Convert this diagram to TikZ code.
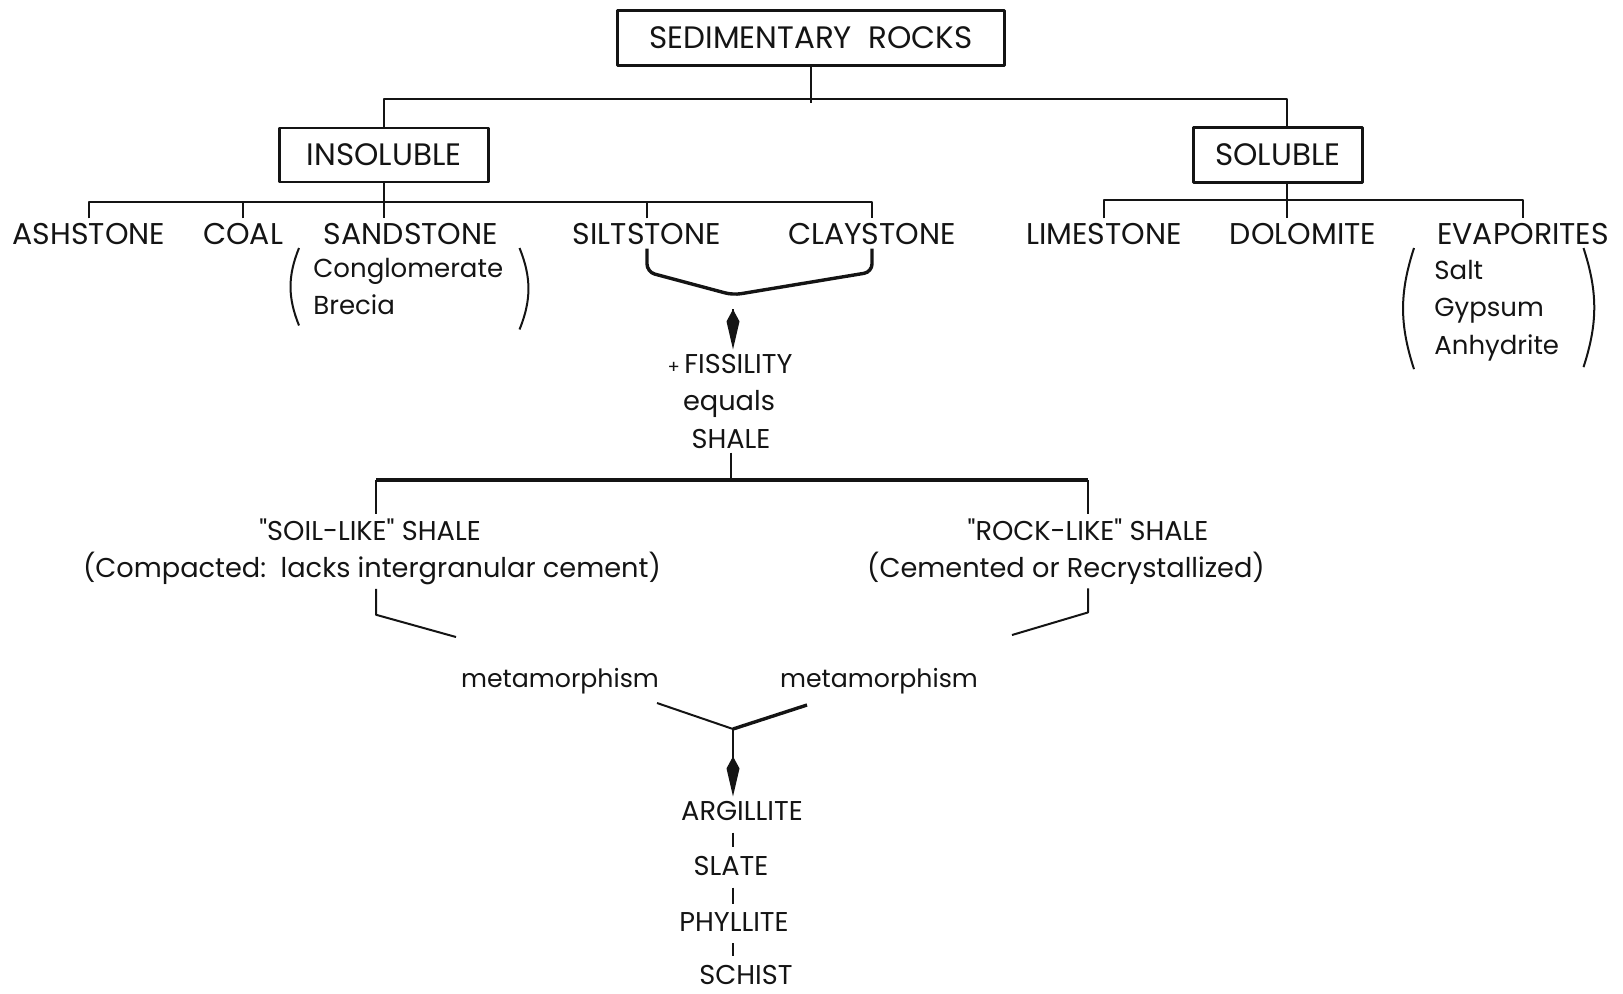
\documentclass[tikz,border=0pt]{standalone}
\usepackage{fontspec}
\setmainfont{Poppins}
\usetikzlibrary{arrows.meta}
\newcommand{\qt}{{\addfontfeature{Ligatures=TeXOff}"}}
\tikzstyle{bx} = [rectangle, draw, line width=1.3pt, inner sep=0pt,
    font=\fontsize{15.5}{18}\selectfont]
\tikzstyle{rk} = [anchor=base, inner sep=2pt, font=\fontsize{15}{18}\selectfont]
\tikzstyle{tx} = [anchor=base, inner sep=2pt, font=\fontsize{13.6}{17}\selectfont]
\tikzstyle{mt} = [anchor=base, inner sep=2pt, font=\fontsize{12.6}{15}\selectfont]
\tikzstyle{lst} = [anchor=north west, align=left, inner sep=0pt,
    font=\fontsize{13}{18.6}\selectfont]
\tikzstyle{ln} = [line width=1pt]
\tikzstyle{fat} = [line width=1.7pt]
\tikzstyle{spindle} = [-{Kite[length=20pt,width=6.5pt,inset=6pt]}, line width=1.3pt]

\begin{document}
\begin{tikzpicture}[x=0.5pt,y=-0.5pt,color=black!92,line join=round]
  \useasboundingbox (0,0) rectangle (1623,993);

  % top of the tree
  \node[bx, minimum width=193.5pt, minimum height=27.5pt] (rocks) at (811,38) {SEDIMENTARY\ \ ROCKS};
  \node[bx, minimum width=104.5pt, minimum height=27pt]   (insol) at (384,155) {INSOLUBLE};
  \node[bx, minimum width=84.5pt, minimum height=27.5pt]  (sol)   at (1278,155) {SOLUBLE};

  \draw[ln] (rocks.south) -- ++(0,36);
  \draw[ln] (insol.north) -- ++(0,-28) -| ([xshift=4.5pt]sol.north);

  % insoluble rocks
  \node[rk] (ash)  at (89,244)  {ASHSTONE};
  \node[rk] (coal) at (243,244) {COAL};
  \node[rk] (sand) at (411,244) {SANDSTONE};
  \node[rk] (silt) at (647,244) {SILTSTONE};
  \node[rk] (clay) at (872,244) {CLAYSTONE};
  \node[lst] (cong) at (313,258) {Conglomerate\\Brecia};

  \coordinate (ib) at (0,202);
  \draw[ln] (insol.south) -- (insol.south |- sand.north);
  \draw[ln] (ash.north) -- (ash.north |- ib) -- (clay.north |- ib) -- (clay.north);
  \draw[ln] (coal.north) -- (coal.north |- ib);
  \draw[ln] (silt.north) -- (silt.north |- ib);
  \draw[ln] ([shift={(-14,-10)}]cong.north west) to[bend right=22] ([shift={(-14,10)}]cong.south west);
  \draw[ln] ([shift={(16,-10)}]cong.north east) to[bend left=22] ([shift={(16,14)}]cong.south east);

  % soluble rocks
  \node[rk] (lime) at (1104,244) {LIMESTONE};
  \node[rk] (dolo) at (1303,244) {DOLOMITE};
  \node[rk] (evap) at (1523,244) {EVAPORITES};
  \node[lst] (salt) at (1434,260) {Salt\\Gypsum\\Anhydrite};

  \coordinate (sb) at (0,200);
  \draw[ln] ([xshift=4.5pt]sol.south) -- ([xshift=4.5pt]sol.south |- dolo.north);
  \draw[ln] (lime.north) -- (lime.north |- sb) -- (evap.north |- sb) -- (evap.north);
  \draw[ln] ([shift={(-20,-12)}]salt.north west) to[bend right=18] ([shift={(-20,8)}]salt.south west);
  \draw[ln] ([shift={(24,-12)}]salt.north east) to[bend left=18] ([shift={(24,6)}]salt.south east);

  % silt + clay
  \coordinate (j1) at (733,295);
  \draw[fat, rounded corners=4pt] (silt.south) -- (silt.south |- 0,272) -- (j1)
      -- (clay.south |- 0,272) -- (clay.south);
  \node[tx] (fiss)   at (730,373) {{\fontsize{9}{9}\selectfont +}\,FISSILITY};
  \node[tx] (equals) at (729,410) {equals};
  \node[tx] (shale)  at (731,448) {SHALE};
  \draw[spindle, shorten <=7pt] (j1) -- (j1 |- fiss.north);

  % kinds of shale
  \node[tx] (soil)     at (370,540) {\qt SOIL-LIKE\qt\ SHALE};
  \node[tx] (soilnote) at (372,577) {(Compacted:\ \ lacks intergranular cement)};
  \node[tx] (rock)     at (1088,540) {\qt ROCK-LIKE\qt\ SHALE};
  \node[tx] (rocknote) at (1066,577) {(Cemented or Recrystallized)};

  \coordinate (hb) at (0,480);
  \draw[ln] (shale.south) -- (shale.south |- hb);
  \draw[ln] ([xshift=3pt]soil.north) -- ([xshift=3pt]soil.north |- hb);
  \draw[fat] ([xshift=3pt]soil.north |- hb) -- (rock.north |- hb);
  \draw[ln] (rock.north |- hb) -- (rock.north);

  % metamorphism
  \node[mt] (meta1) at (560,687) {metamorphism};
  \node[mt] (meta2) at (879,687) {metamorphism};
  \coordinate (sm) at (456,637);
  \coordinate (rm) at (1012,635);
  \draw[ln] ([xshift=3pt]soilnote.south -| soil) -- ++(0,26) -- (sm);
  \draw[ln] (rocknote.south -| rock) -- ++(0,24) -- (rm);

  \coordinate (la) at (657,703);
  \coordinate (ra) at (807,705);
  \coordinate (j2) at (733,729);
  \draw[ln] (la) -- (j2);
  \draw[fat] (ra) -- (j2);

  \node[tx] (arg)    at (742,820) {ARGILLITE};
  \node[tx] (slate)  at (731,875) {SLATE};
  \node[tx] (phyl)   at (734,931) {PHYLLITE};
  \node[tx] (schist) at (746,984) {SCHIST};
  \draw[spindle] (j2) -- (j2 |- arg.north);
  \draw[ln, shorten <=4pt, shorten >=2pt] (arg.south -| j2) -- (slate.north -| j2);
  \draw[ln, shorten <=4pt, shorten >=2pt] (slate.south -| j2) -- (phyl.north -| j2);
  \draw[ln, shorten <=4pt, shorten >=2pt] (phyl.south -| j2) -- (schist.north -| j2);
\end{tikzpicture}
\end{document}
